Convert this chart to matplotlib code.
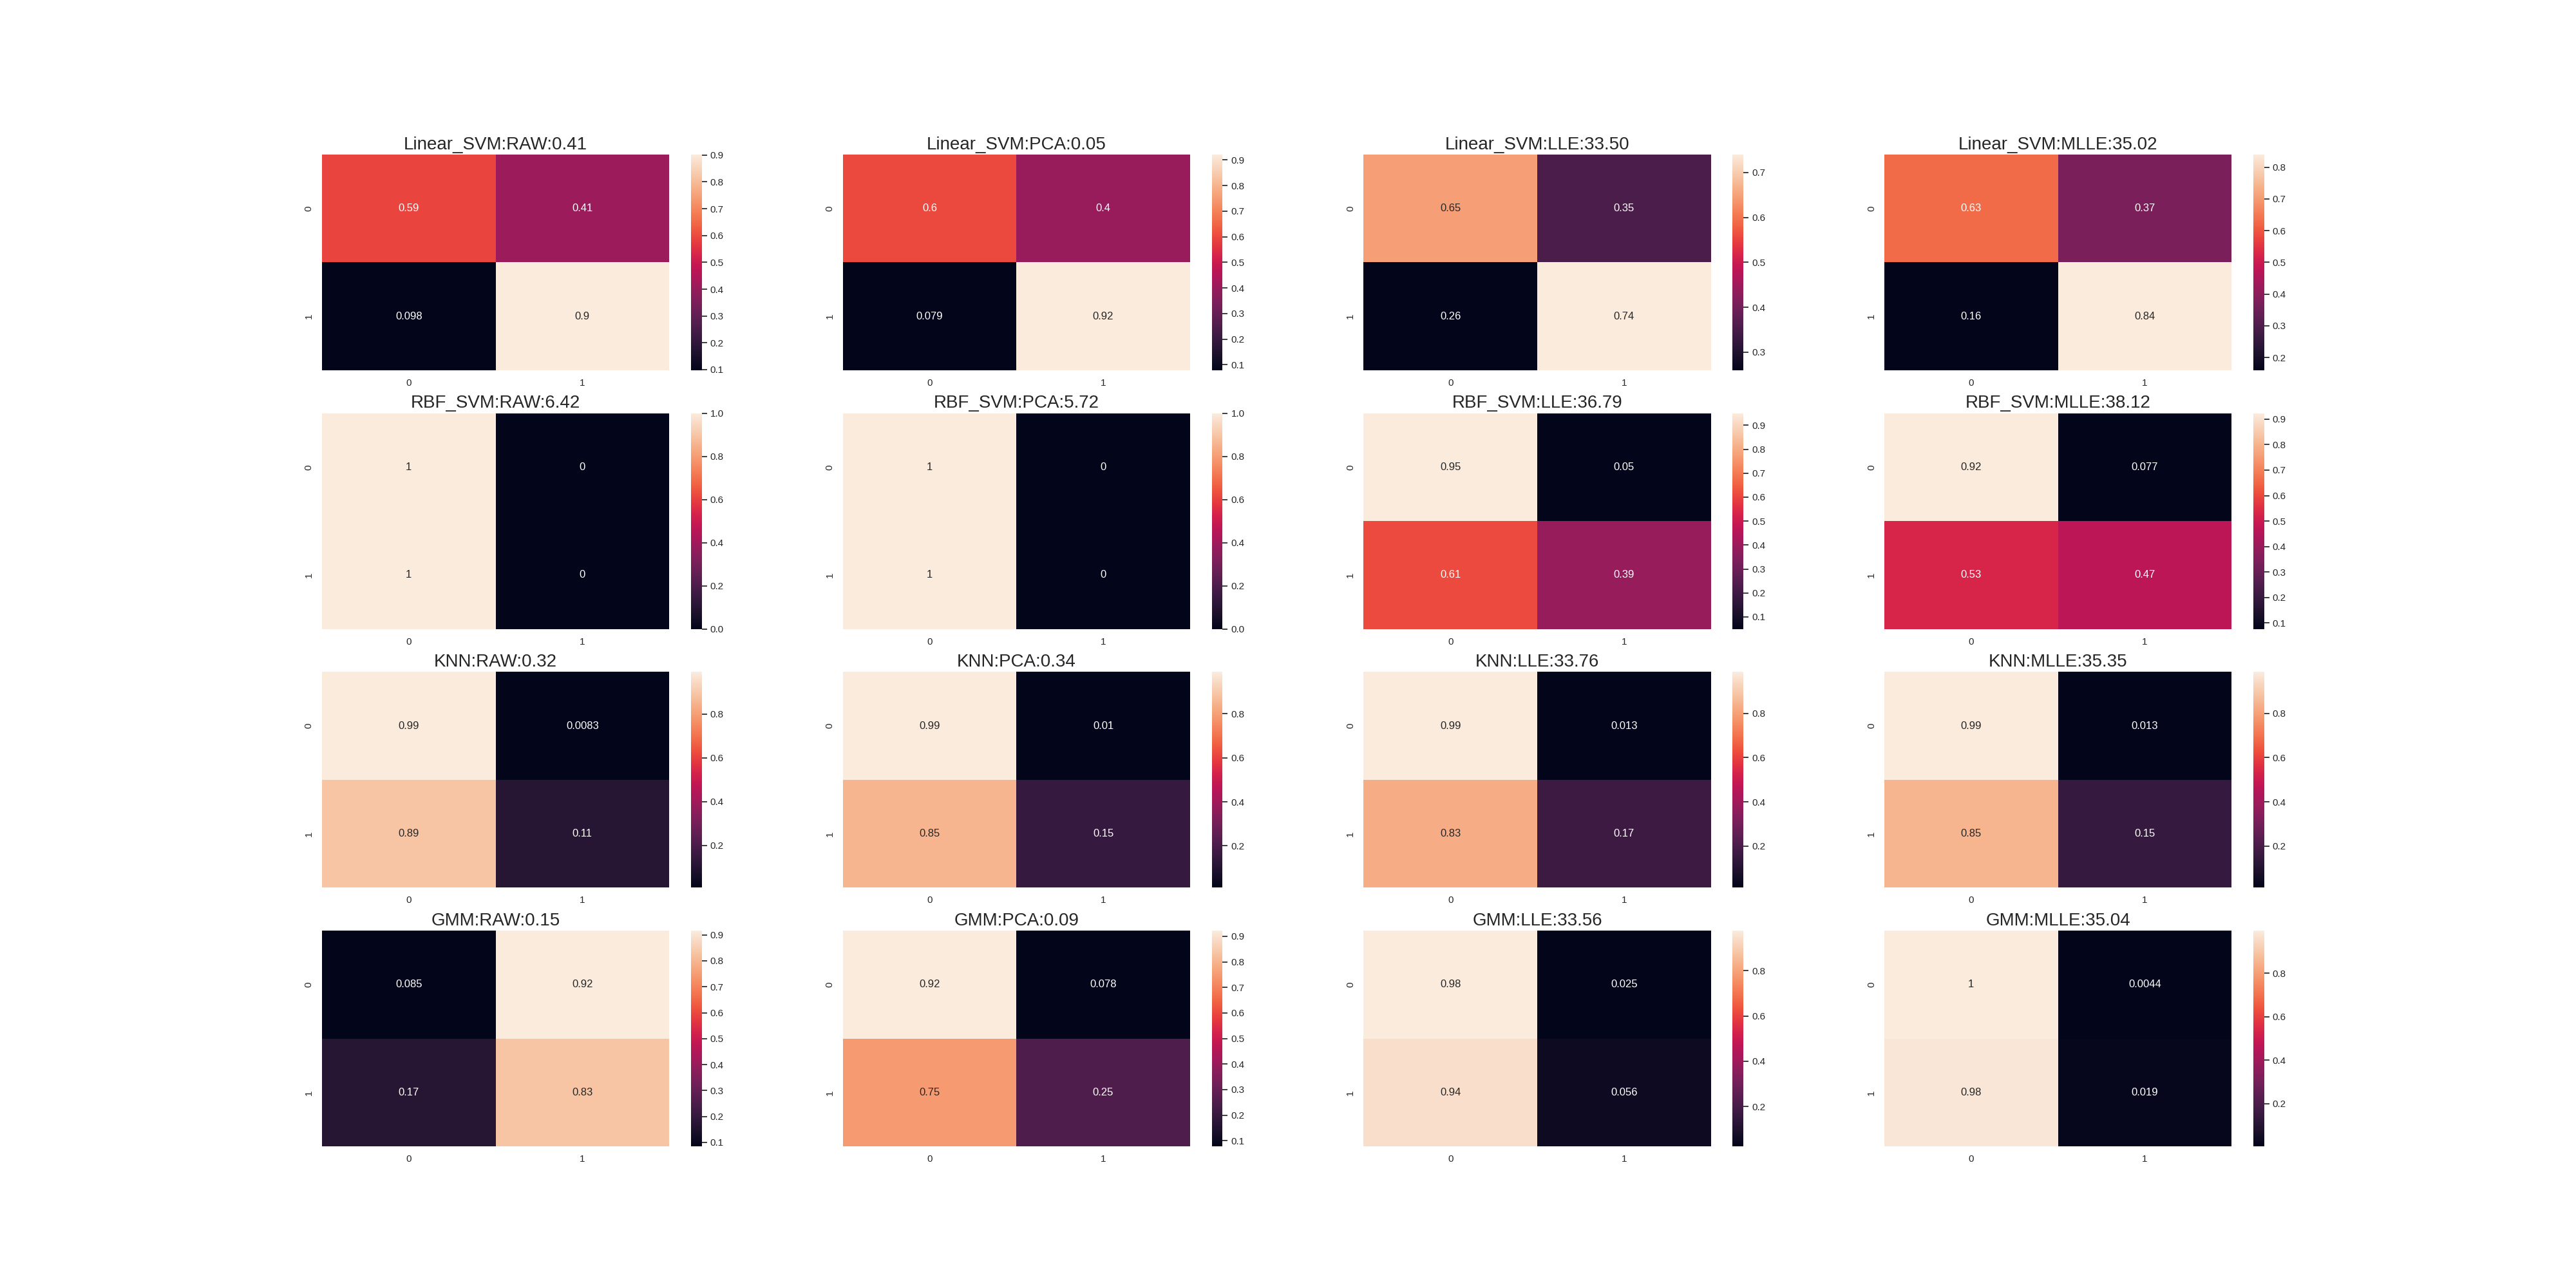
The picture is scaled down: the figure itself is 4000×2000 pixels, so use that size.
import matplotlib
matplotlib.use("Agg")
import matplotlib.pyplot as plt
import numpy as np
import seaborn as sns

classifiers = ["Linear_SVM", "RBF_SVM", "KNN", "GMM"]
features = ["RAW", "PCA", "LLE", "MLLE"]

linear_svm_scores = [0.41, 0.05, 33.50, 35.02]
rbf_svm_scores = [6.42, 5.72, 36.79, 38.12]
knn_scores = [0.32, 0.34, 33.76, 35.35]
gmm_scores = [0.15, 0.09, 33.56, 35.04]

linear_svm_cells = [
    [[0.59, 0.41], [0.098, 0.902]],
    [[0.60, 0.40], [0.079, 0.921]],
    [[0.646, 0.354], [0.26, 0.74]],
    [[0.63, 0.37], [0.16, 0.84]],
]
rbf_svm_cells = [
    [[1.0, 0.0], [1.0, 0.0]],
    [[1.0, 0.0], [1.0, 0.0]],
    [[0.95, 0.05], [0.61, 0.39]],
    [[0.923, 0.077], [0.53, 0.47]],
]
knn_cells = [
    [[0.9917, 0.0083], [0.89, 0.11]],
    [[0.99, 0.01], [0.85, 0.15]],
    [[0.987, 0.013], [0.83, 0.17]],
    [[0.987, 0.013], [0.85, 0.15]],
]
gmm_cells = [
    [[0.085, 0.916], [0.17, 0.83]],
    [[0.922, 0.078], [0.75, 0.25]],
    [[0.976, 0.0245], [0.944, 0.056]],
    [[0.9956, 0.0044], [0.981, 0.019]],
]

all_scores = [linear_svm_scores, rbf_svm_scores, knn_scores, gmm_scores]
all_cells = [linear_svm_cells, rbf_svm_cells, knn_cells, gmm_cells]

sns.set_theme()
plt.rcParams["font.family"] = ["Liberation Sans", "DejaVu Sans"]

fig, axes = plt.subplots(4, 4, figsize=(40, 20), dpi=100)
for r, clf in enumerate(classifiers):
    for c, feat in enumerate(features):
        ax = axes[r, c]
        sns.heatmap(np.array(all_cells[r][c]), annot=True, ax=ax)
        ax.set_title(f"{clf}:{feat}:{all_scores[r][c]:.2f}", fontsize=20)

fig.savefig("out.png", dpi=100)
